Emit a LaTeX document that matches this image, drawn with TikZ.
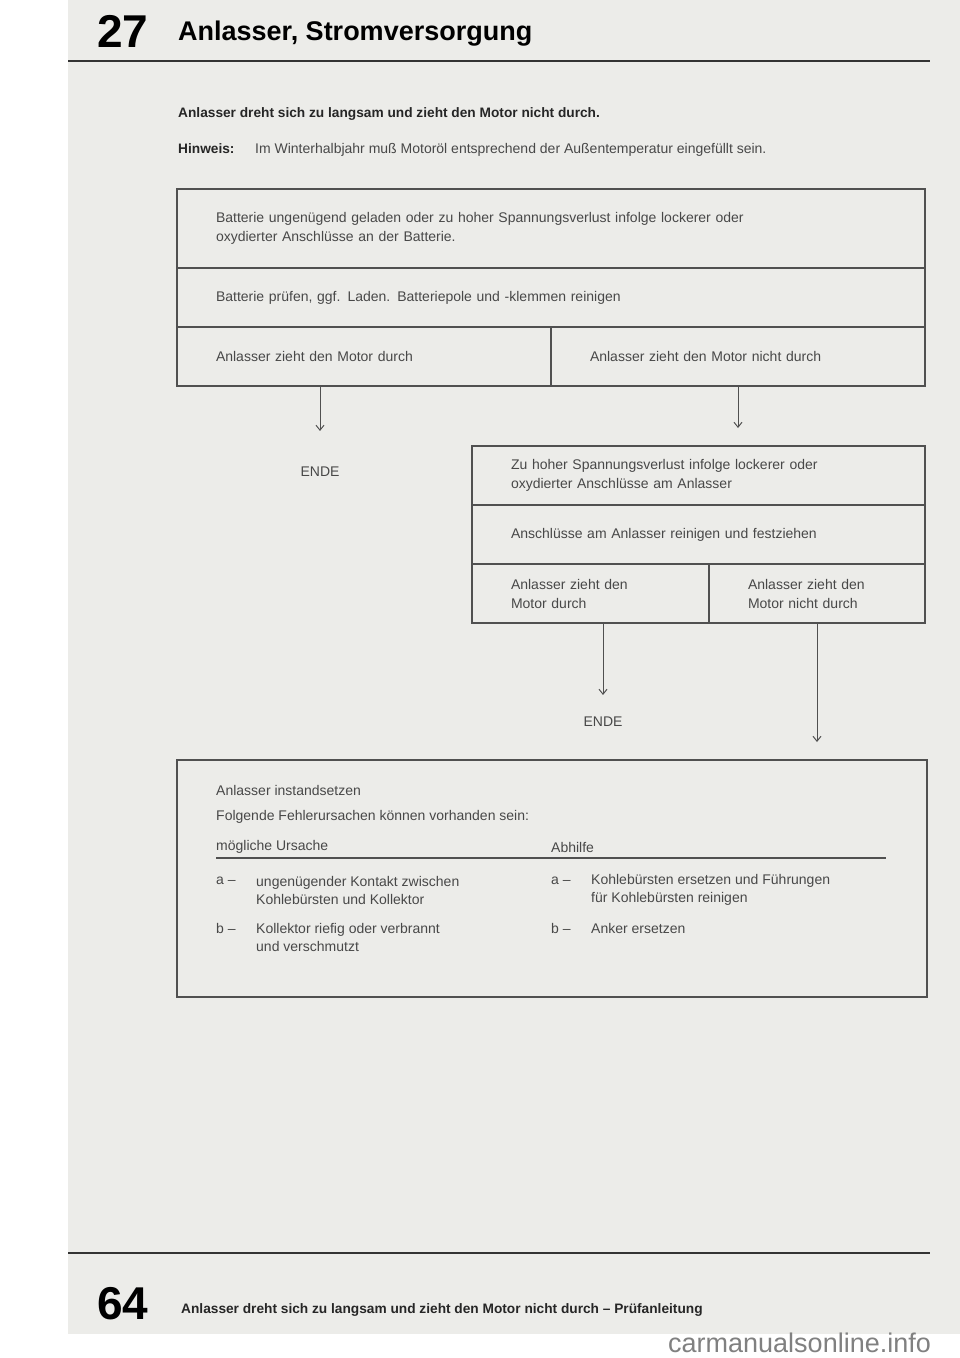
\documentclass[tikz,border=0pt]{standalone}
\usepackage{fontspec}
\setmainfont{Liberation Sans}
\usetikzlibrary{positioning,arrows.meta}

\definecolor{papier}{RGB}{236,236,233}
\definecolor{tinte}{RGB}{72,72,72}
\definecolor{strich}{RGB}{80,80,80}

\tikzset{
  kasten/.style={draw=strich, line width=1.3pt, rectangle, minimum height=59pt,
    inner xsep=39pt, inner ysep=0pt, outer sep=0pt, align=left, anchor=north west,
    text=tinte, font=\fontsize{14}{19}\selectfont},
  schrift/.style={text=tinte, inner sep=0pt, anchor=west, align=left,
    font=\fontsize{14}{18}\selectfont},
  fett/.style={text=black!85, inner sep=0pt, anchor=west,
    font=\bfseries\fontsize{13.7}{15}\selectfont},
  pfeil/.style={draw=strich, line width=1pt, -{Straight Barb[length=5pt,width=8pt]}},
  linie/.style={draw=black!80, line width=1.6pt}
}

\begin{document}
\begin{tikzpicture}[x=1pt, y=-1pt]
        % page
        \fill[white] (0,0) rectangle (960,1358);
        \fill[papier] (68,0) rectangle (960,1334);
        \useasboundingbox (0,0) rectangle (960,1358);

        % header
        \node[inner sep=0pt, anchor=west, font=\bfseries\fontsize{46}{46}\selectfont] (kapitel) at (97,31) {27};
        \node[inner sep=0pt, anchor=west, font=\bfseries\fontsize{27}{27}\selectfont] (titel) at (178,34) {Anlasser, Stromversorgung};
        \draw[linie] (68,61) -- (930,61);

        \node[fett] (frage) at (178,114) {Anlasser dreht sich zu langsam und zieht den Motor nicht durch.};
        \node[fett] (hinweis) at (178,149) {Hinweis:};
        \node[schrift] (hinweistext) at (255,150) {Im Winterhalbjahr muß Motoröl entsprechend der Außentemperatur eingefüllt sein.};

        % first block
        \node[kasten, text width=670pt, minimum height=79pt] (batt) at (177,189)
          {Batterie ungenügend geladen oder zu hoher Spannungsverlust infolge lockerer oder\\oxydierter Anschlüsse an der Batterie.};
        \node[kasten, text width=670pt] (pruef) at (batt.south west)
          {Batterie prüfen, ggf. Laden. Batteriepole und -klemmen reinigen};
        \node[kasten, text width=296pt] (durch1) at (pruef.south west) {Anlasser zieht den Motor durch};
        \node[kasten, text width=296pt] (nicht1) at (durch1.north east) {Anlasser zieht den Motor nicht durch};

        \node[schrift, anchor=center] (ende1) at (320,472) {ENDE};

        % second block
        \node[kasten, text width=375pt] (spann) at (472,446)
          {Zu hoher Spannungsverlust infolge lockerer oder\\oxydierter Anschlüsse am Anlasser};
        \node[kasten, text width=375pt] (anschl) at (spann.south west)
          {Anschlüsse am Anlasser reinigen und festziehen};
        \node[kasten, text width=159pt] (durch2) at (anschl.south west) {Anlasser zieht den\\Motor durch};
        \node[kasten, text width=138pt] (nicht2) at (durch2.north east) {Anlasser zieht den\\Motor nicht durch};

        \node[schrift, anchor=center] (ende2) at (603,722) {ENDE};

        % repair box
        \node[draw=strich, line width=1.3pt, minimum width=750pt, minimum height=237pt,
          inner sep=0pt, outer sep=0pt, anchor=north west] (instand) at (177,760) {};
        \node[schrift] (instandtitel) at (216,790) {Anlasser instandsetzen};
        \node[schrift] (folgende) at (216,817) {Folgende Fehlerursachen können vorhanden sein:};
        \node[schrift] (ursache) at (216,847) {mögliche Ursache};
        \node[schrift] (abhilfe) at (551,847) {Abhilfe};
        \draw[draw=strich, line width=1.1pt] (216,858) -- (886,858);

        \node[schrift] (ua) at (216,881) {a --};
        \node[schrift] (uatext) at (256,890) {ungenügender Kontakt zwischen\\Kohlebürsten und Kollektor};
        \node[schrift] (ub) at (216,928) {b --};
        \node[schrift] (ubtext) at (256,937) {Kollektor riefig oder verbrannt\\und verschmutzt};
        \node[schrift] (aa) at (551,881) {a --};
        \node[schrift] (aatext) at (591,890) {Kohlebürsten ersetzen und Führungen\\für Kohlebürsten reinigen};
        \node[schrift] (ab) at (551,928) {b --};
        \node[schrift] (abtext) at (591,928) {Anker ersetzen};

        % arrows
        \draw[pfeil, shorten >=36pt] (ende1 |- durch1.south) -- (ende1.north);
        \draw[pfeil, shorten >=18pt] (nicht1.south) -- (nicht1.south |- spann.north);
        \draw[pfeil, shorten >=22pt] (ende2 |- durch2.south) -- (ende2.north);
        \draw[pfeil, shorten >=18pt] (nicht2.south) -- (nicht2.south |- instand.north);

        % footer
        \draw[linie] (68,1253) -- (930,1253);
        \node[inner sep=0pt, anchor=west, font=\bfseries\fontsize{46}{46}\selectfont] (seite) at (97,1304) {64};
        \node[fett] (fuss) at (181,1310) {Anlasser dreht sich zu langsam und zieht den Motor nicht durch -- Prüfanleitung};
        \node[inner sep=0pt, anchor=base west, text=black!50, font=\fontsize{27}{27}\selectfont] (marke) at (668,1352) {carmanualsonline.info};
\end{tikzpicture}
\end{document}
